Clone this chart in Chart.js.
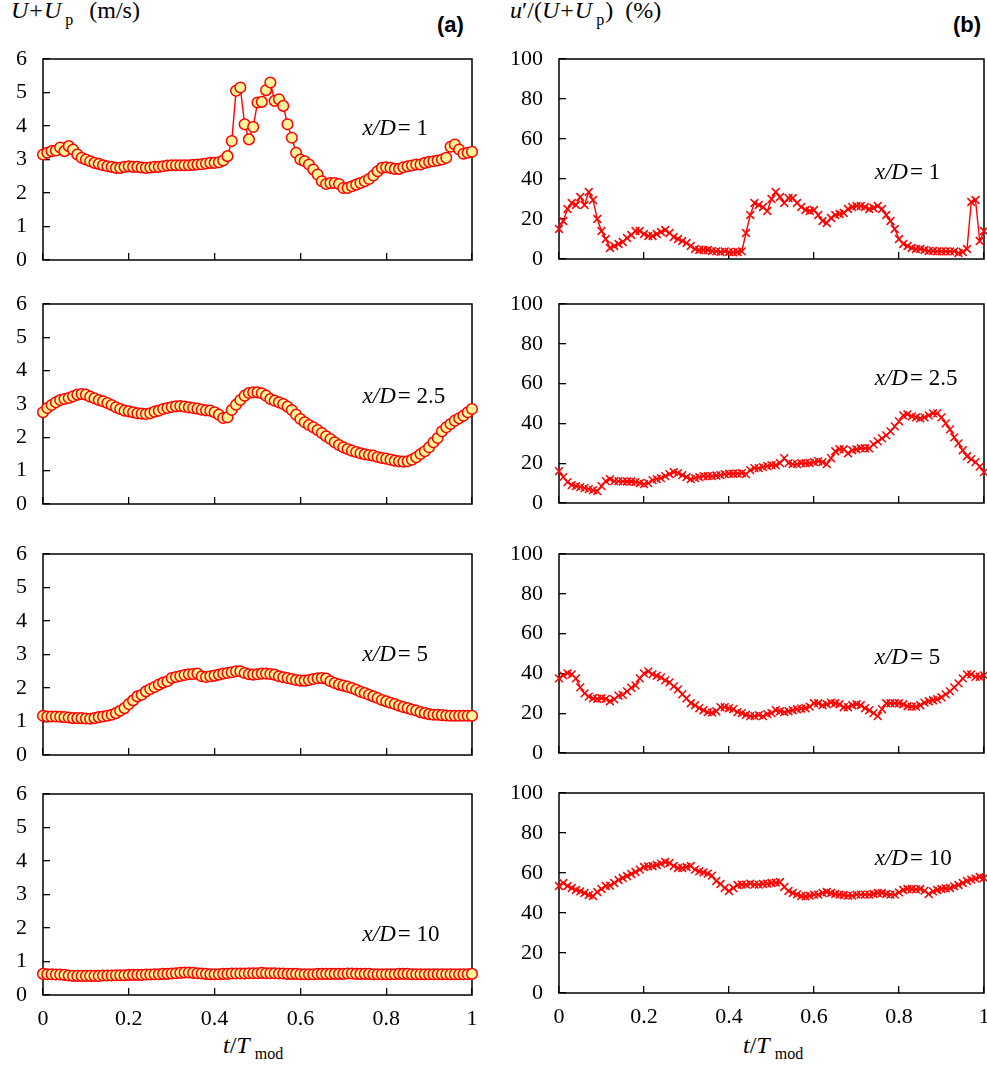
<!DOCTYPE html>
<html>
<head>
<meta charset="utf-8">
<script src="https://cdn.jsdelivr.net/npm/chart.js@4.4.1/dist/chart.umd.min.js"></script>
<style>
  html, body { margin: 0; padding: 0; background: #fff; }
  body { width: 987px; height: 1066px; overflow: hidden; position: relative; }
  canvas { position: absolute; }
  .lbl { position: absolute; font-family: "Liberation Serif", "Times New Roman", serif; color: #000; white-space: nowrap; line-height: 1; font-size: 24px; }
  .sub { font-size: 16px; position: relative; top: 7px; margin-left: 4px; }
  .op { margin: 0 1px; }
  .tag { position: absolute; font-family: "Liberation Sans", Arial, sans-serif; font-weight: bold; font-size: 22px; line-height: 1; color: #000; }
</style>
</head>
<body>

<!-- column headers -->
<div class="lbl" style="left:11px;top:-2px"><i>U</i><span class="op">+</span><i>U</i><span class="sub">p</span><span style="margin-left:16px">(m/s)</span></div>
<div class="tag" style="left:437px;top:14px">(a)</div>

<div class="lbl" style="left:510px;top:-2px"><i>u</i>′/(<i>U</i><span class="op">+</span><i>U</i><span class="sub" style="margin-right:1px">p</span>)<span style="margin-left:12px">(%)</span></div>
<div class="tag" style="left:953px;top:14px">(b)</div>

<!-- time axis titles -->
<div class="lbl" style="left:223px;top:1033px"><i>t</i>/<i>T</i><span class="sub" style="top:6px;margin-left:5px">mod</span></div>
<div class="lbl" style="left:743px;top:1033px"><i>t</i>/<i>T</i><span class="sub" style="top:6px;margin-left:5px">mod</span></div>

<canvas id="a1"></canvas><canvas id="b1"></canvas>
<canvas id="a2"></canvas><canvas id="b2"></canvas>
<canvas id="a3"></canvas><canvas id="b3"></canvas>
<canvas id="a4"></canvas><canvas id="b4"></canvas>

<script>
// Phase within one modulation period
const T_MOD = [0,0.01,0.02,0.03,0.04,0.05,0.06,0.07,0.08,0.09,
  0.1,0.11,0.12,0.13,0.14,0.15,0.16,0.17,0.18,0.19,
  0.2,0.21,0.22,0.23,0.24,0.25,0.26,0.27,0.28,0.29,
  0.3,0.31,0.32,0.33,0.34,0.35,0.36,0.37,0.38,0.39,
  0.4,0.41,0.42,0.43,0.44,0.45,0.46,0.47,0.48,0.49,
  0.5,0.51,0.52,0.53,0.54,0.55,0.56,0.57,0.58,0.59,
  0.6,0.61,0.62,0.63,0.64,0.65,0.66,0.67,0.68,0.69,
  0.7,0.71,0.72,0.73,0.74,0.75,0.76,0.77,0.78,0.79,
  0.8,0.81,0.82,0.83,0.84,0.85,0.86,0.87,0.88,0.89,
  0.9,0.91,0.92,0.93,0.94,0.95,0.96,0.97,0.98,0.99,1];

// Phase-averaged velocity U+Up (m/s)
const U_XD1 = [3.15,3.2,3.25,3.27,3.36,3.25,3.4,3.3,3.15,3.05,
  3.0,2.95,2.9,2.87,2.83,2.8,2.78,2.75,2.75,2.78,
  2.8,2.78,2.78,2.76,2.75,2.76,2.78,2.78,2.8,2.82,
  2.83,2.83,2.83,2.83,2.83,2.84,2.85,2.86,2.88,2.9,
  2.9,2.92,2.97,3.1,3.55,5.05,5.15,4.05,3.6,3.97,
  4.7,4.72,5.07,5.3,4.75,4.8,4.6,4.05,3.65,3.2,
  3.0,2.95,2.85,2.7,2.55,2.35,2.27,2.3,2.3,2.27,
  2.15,2.15,2.2,2.25,2.3,2.35,2.42,2.52,2.65,2.75,
  2.77,2.75,2.72,2.72,2.77,2.8,2.82,2.85,2.85,2.9,
  2.93,2.95,2.97,3.0,3.05,3.38,3.45,3.3,3.17,3.2,3.23];
const U_XD25 = [2.75,2.88,2.97,3.05,3.12,3.15,3.18,3.23,3.28,3.3,
  3.28,3.22,3.17,3.12,3.08,3.03,2.97,2.9,2.85,2.8,
  2.78,2.75,2.72,2.71,2.7,2.72,2.77,2.8,2.85,2.88,
  2.91,2.93,2.94,2.92,2.9,2.88,2.86,2.83,2.81,2.8,
  2.75,2.68,2.58,2.6,2.82,2.98,3.12,3.25,3.33,3.35,
  3.35,3.32,3.25,3.15,3.1,3.05,3.0,2.92,2.82,2.68,
  2.55,2.45,2.37,2.3,2.22,2.13,2.03,1.95,1.85,1.77,
  1.7,1.65,1.6,1.56,1.52,1.49,1.47,1.45,1.41,1.38,
  1.36,1.33,1.3,1.28,1.27,1.28,1.33,1.4,1.5,1.58,
  1.7,1.85,1.98,2.18,2.3,2.4,2.5,2.57,2.65,2.75,2.85];
const U_XD5 = [1.17,1.15,1.15,1.15,1.14,1.13,1.12,1.1,1.1,1.1,
  1.09,1.08,1.1,1.13,1.15,1.17,1.2,1.25,1.32,1.4,
  1.52,1.63,1.75,1.8,1.9,1.97,2.03,2.1,2.16,2.2,
  2.3,2.33,2.36,2.39,2.41,2.42,2.43,2.35,2.33,2.35,
  2.37,2.4,2.43,2.45,2.47,2.5,2.5,2.45,2.41,2.4,
  2.41,2.43,2.43,2.42,2.4,2.35,2.32,2.3,2.27,2.24,
  2.22,2.22,2.24,2.27,2.29,2.3,2.28,2.2,2.15,2.1,
  2.07,2.04,2.0,1.95,1.89,1.85,1.8,1.75,1.7,1.64,
  1.6,1.56,1.52,1.47,1.43,1.4,1.36,1.33,1.28,1.25,
  1.22,1.2,1.2,1.19,1.18,1.17,1.17,1.17,1.17,1.17,1.17];
const U_XD10 = [0.63,0.62,0.62,0.61,0.61,0.6,0.58,0.57,0.57,0.57,
  0.57,0.57,0.57,0.57,0.58,0.58,0.58,0.59,0.59,0.59,
  0.6,0.6,0.6,0.6,0.61,0.61,0.62,0.62,0.63,0.63,
  0.64,0.65,0.66,0.67,0.67,0.66,0.65,0.64,0.63,0.62,
  0.62,0.62,0.63,0.63,0.64,0.64,0.64,0.64,0.65,0.65,
  0.65,0.66,0.65,0.65,0.65,0.64,0.64,0.63,0.63,0.63,
  0.62,0.62,0.62,0.62,0.63,0.63,0.63,0.63,0.63,0.63,
  0.63,0.64,0.64,0.63,0.63,0.63,0.63,0.62,0.62,0.62,
  0.62,0.62,0.62,0.63,0.63,0.63,0.62,0.62,0.62,0.62,
  0.62,0.62,0.62,0.62,0.62,0.62,0.62,0.62,0.62,0.62,0.63];

// Turbulence intensity u'/(U+Up) (%)
const I_XD1 = [15,19,25,28,27,31,27,33.5,29.5,20,
  14,10,5.5,6.5,7.5,8.5,10.5,12,14,14,
  12.5,11.5,11.5,12.5,13.5,14.5,13,11,10,9,
  8,6.5,5,4.5,4.5,4.5,4,3.8,3.5,3.8,
  3.5,3.3,3.5,3.8,13,22,28,27,26,24,
  30,33.5,31,28,30.5,30.5,28,26,24.5,24,
  24.5,22,19,18,20.5,22,22.5,23,25,26,
  26.5,26.5,26,25,25.5,26.5,25,22,19,15,
  10,7.5,6.5,5.5,5,5,4.5,4,4,3.8,
  3.8,3.8,3.8,3.8,3,3.5,5,28.5,29.5,9,14];
const I_XD25 = [16,13,10.5,9,8.5,8,7.5,7,6.5,6,
  8.5,11,12,11,11,10.8,10.8,10.8,10.5,10,
  9.5,10,11.5,12,12.5,13.5,14.5,15.5,15,14,
  13,12,12.5,13,13.5,13.5,13.5,13.8,14,14.5,
  14.7,14.7,14.8,15,14.5,16.5,17.5,17.5,18,18.5,
  19,19,20,22.5,20,19.5,19.5,20,20,20,
  20.5,21,20.5,19.5,22.5,26,27,27,25,26.5,
  27,27.5,27.5,27.5,29.5,31,32.5,34,36,38.5,
  41,44,44.5,43.5,43,42.5,43,44,45,45,
  43,40,37,33,30,26.5,23.5,22,20.5,18.3,15.5];
const I_XD5 = [37.5,39,40,39.5,37.5,33,30,28.3,27.5,27.2,
  27.5,27.2,26,27,28.8,29.2,31,32.8,34,37.5,
  40,41,39.5,38.8,38,36.5,35.5,33.5,32,29.5,
  27.5,25,24,22.5,21.5,20.5,20.3,21,23,23,
  22.5,22,20.5,20,19.2,18.5,18.5,19,18.5,19.5,
  20,21.5,21,20.5,21,21.5,22,22.3,22.5,23.3,
  25,25,24,24.5,25.3,25,24.5,23,23,24,
  24.5,24,22.5,21.5,20,18.5,22,25,25,25,
  25,24.5,23.5,23.3,23.3,24,25.3,26,26.5,27,
  28,29.5,31,33,35,37.5,39.5,39.5,38.3,38.3,39];
const I_XD10 = [53.5,55,53.5,52.5,51.5,50.8,50,49,48.5,50.5,
  52,53.5,53.7,55,56.5,57.5,58.5,59.5,60.5,61.7,
  63,63.3,63.5,64,64.7,65.5,65,63.5,62.5,62.5,
  63,63.5,61.7,60.8,60.3,59.7,58.7,56,54.5,52.5,
  51,52.5,54,54.2,54.2,54.7,54.2,54.2,54.5,54.7,
  55,55.2,55.5,53,51,50,49.3,48.5,48.3,48.7,
  49.2,49.2,50,50.5,50,49.5,49.2,49,48.7,48.7,
  49.2,49.2,49.2,49.2,49.5,50,50,49.5,49.2,49.2,
  50.3,51.5,52,52,51.8,52,51.2,49.5,50.8,51.5,
  52,52.3,52.5,53.3,54,55,56,56.7,57.2,58,57.5];

// Station labels
const STATIONS = ['1', '2.5', '5', '10'];

const SERIF = '"Liberation Serif", "Times New Roman", serif';
const RED = '#ff0000';
const PALE = '#fdf59a';

// Plot rectangles on the page (left/right per column, top/bottom per row)
const LEFT_COL = { L: 43, R: 472 };
const RIGHT_COL = { L: 559, R: 984 };
const ROWS_A = [[59, 260], [304, 504], [554, 755], [794, 995]];
const ROWS_B = [[59, 259], [304, 503], [554, 753], [793, 993]];

const PAD_L = 48, PAD_T = 14, PAD_R = 14;

// Full box round the plot area
const frameBox = {
  id: 'frameBox',
  beforeDatasetsDraw(chart) {
    const a = chart.chartArea, ctx = chart.ctx;
    ctx.save();
    ctx.strokeStyle = '#000';
    ctx.lineWidth = 1.5;
    ctx.strokeRect(a.left, a.top, a.right - a.left, a.bottom - a.top);
    ctx.restore();
  }
};

// "x/D = n" note placed in data coordinates
const stationNote = {
  id: 'stationNote',
  afterDatasetsDraw(chart, args, opts) {
    if (!opts || opts.text === undefined) return;
    const ctx = chart.ctx;
    const px = chart.scales.x.getPixelForValue(opts.x);
    const py = chart.scales.y.getPixelForValue(opts.y);
    ctx.save();
    ctx.fillStyle = '#000';
    ctx.textBaseline = 'middle';
    ctx.textAlign = 'left';
    ctx.font = 'italic 23px ' + SERIF;
    ctx.fillText('x/D', px, py);
    const w = ctx.measureText('x/D').width;
    ctx.font = '23px ' + SERIF;
    ctx.fillText('= ' + opts.text, px + w + 2, py);
    ctx.restore();
  }
};

function fmtTick(v) {
  return String(Math.round(v * 100) / 100);
}

function makePanel(id, col, row, yMax, yStep, values, marker, note, bottom) {
  const plotW = col.R - col.L, plotH = row[1] - row[0];
  const xAxisH = bottom ? 44 : 14;
  const cv = document.getElementById(id);
  cv.width = plotW + PAD_L + PAD_R;
  cv.height = plotH + PAD_T + xAxisH;
  cv.style.left = (col.L - PAD_L) + 'px';
  cv.style.top = (row[0] - PAD_T) + 'px';

  const ds = {
    data: T_MOD.map((t, i) => ({ x: t, y: values[i] })),
    borderColor: RED,
    borderWidth: 1.4,
    tension: 0,
    clip: false,
    pointBorderColor: RED
  };
  if (marker === 'circle') {
    Object.assign(ds, { pointStyle: 'circle', pointRadius: 5.3, pointBorderWidth: 1.5, pointBackgroundColor: PALE });
  } else {
    Object.assign(ds, { pointStyle: 'crossRot', pointRadius: 5.5, pointBorderWidth: 1.5, pointBackgroundColor: RED });
  }

  const tickFont = { family: SERIF, size: 22 };
  new Chart(cv, {
    type: 'line',
    data: { datasets: [ds] },
    plugins: [frameBox, stationNote],
    options: {
      responsive: false,
      animation: false,
      events: [],
      layout: { padding: { top: PAD_T, right: PAD_R, left: 0, bottom: 0 } },
      plugins: {
        legend: { display: false },
        tooltip: { enabled: false },
        stationNote: note
      },
      scales: {
        x: {
          type: 'linear', min: 0, max: 1,
          afterFit(s) { s.height = xAxisH; s.paddingLeft = 0; s.paddingRight = 0; },
          ticks: { stepSize: 0.2, display: bottom, font: tickFont, color: '#000', padding: 18, maxRotation: 0, autoSkip: false, callback: fmtTick },
          grid: { drawOnChartArea: false, drawTicks: true, tickLength: -7, color: '#000', lineWidth: 1.3 },
          border: { display: false }
        },
        y: {
          type: 'linear', min: 0, max: yMax,
          afterFit(s) { s.width = PAD_L; s.paddingTop = 0; s.paddingBottom = 0; },
          ticks: { stepSize: yStep, font: tickFont, color: '#000', padding: 23, callback: fmtTick },
          grid: { drawOnChartArea: false, drawTicks: true, tickLength: -7, color: '#000', lineWidth: 1.3 },
          border: { display: false }
        }
      }
    }
  });
}

const U_SERIES = [U_XD1, U_XD25, U_XD5, U_XD10];
const I_SERIES = [I_XD1, I_XD25, I_XD5, I_XD10];
const NOTE_A = [3.9, 3.2, 3.0, 1.8];
const NOTE_B = [43, 62.5, 48, 67];

for (let r = 0; r < 4; r++) {
  const last = r === 3;
  makePanel('a' + (r + 1), LEFT_COL, ROWS_A[r], 6, 1, U_SERIES[r], 'circle',
    { x: 0.745, y: NOTE_A[r], text: STATIONS[r] }, last);
  makePanel('b' + (r + 1), RIGHT_COL, ROWS_B[r], 100, 20, I_SERIES[r], 'cross',
    { x: 0.743, y: NOTE_B[r], text: STATIONS[r] }, last);
}
</script>
</body>
</html>
